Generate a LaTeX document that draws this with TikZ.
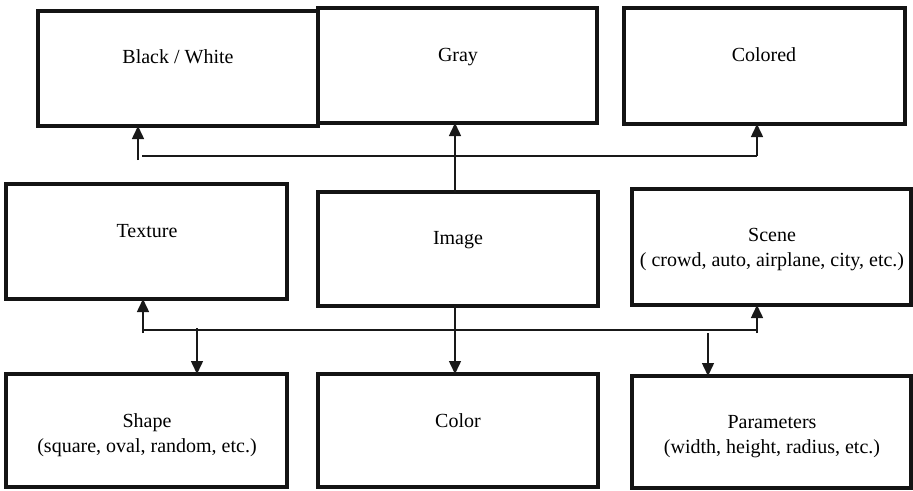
\documentclass[tikz,border=0pt]{standalone}
\usepackage{fontspec}
\setmainfont{Liberation Serif}
\usetikzlibrary{arrows.meta}
\begin{document}
\begin{tikzpicture}[x=1pt,y=-1pt,
  box/.style={draw=black!92, line width=4pt, inner sep=0pt, outer sep=0pt},
  lbl/.style={font=\fontsize{20}{25.5}\selectfont, align=center, anchor=base, inner sep=0pt},
  conn/.style={line width=1.5pt, draw=black!90},
  arr/.style={conn, -{Triangle[length=13pt,width=12pt]}}]
\useasboundingbox (0,0) rectangle (913,490);
% boxes
\node[box, minimum width=280pt, minimum height=115pt] (bw)  at (178,68.5) {};
\node[box, minimum width=279pt, minimum height=115pt] (gray) at (457.5,65.5) {};
\node[box, minimum width=281pt, minimum height=116pt] (col) at (764.5,66) {};
\node[box, minimum width=281pt, minimum height=115pt] (tex) at (146.5,241.5) {};
\node[box, minimum width=280pt, minimum height=114pt] (img) at (458,249) {};
\node[box, minimum width=279pt, minimum height=116pt] (scn) at (771.5,247) {};
\node[box, minimum width=281pt, minimum height=113pt] (shp) at (146.5,430.5) {};
\node[box, minimum width=280pt, minimum height=113pt] (clr) at (458,430.5) {};
\node[box, minimum width=279pt, minimum height=112pt] (par) at (771.5,432) {};
% texts
\node[lbl] (bwt) at (178,63) {Black / White};
\node[lbl] (grt) at (458,61) {Gray};
\node[lbl] (cot) at (764,61) {Colored};
\node[lbl] (txt) at (147,237) {Texture};
\node[lbl] (imt) at (458,244) {Image};
\node[lbl] (sct) at (772,266.5) {Scene\\( crowd, auto, airplane, city, etc.)};
\node[lbl] (sht) at (147,452.5) {Shape\\(square, oval, random, etc.)};
\node[lbl] (clt) at (458,427) {Color};
\node[lbl] (pat) at (772,453.5) {Parameters\\(width, height, radius, etc.)};
% top connectors
\coordinate (g1) at (455,0);
\coordinate (hl) at (142,156);
\coordinate (hr) at (757,156);
\coordinate (bwf) at (138,160);
\draw[arr] (g1 |- img.north) -- (g1 |- gray.south);
\draw[conn] (hl) -- (hr);
\draw[arr] (bwf) -- (bwf |- bw.south);
\draw[arr] (hr) -- (hr |- col.south);
% lower connectors
\coordinate (ll) at (143,330);
\coordinate (lr) at (757,330);
\coordinate (tf) at (143,333);
\coordinate (sf) at (757,333);
\coordinate (shf) at (197,328);
\coordinate (pf) at (708,333);
\draw[conn] (ll) -- (lr);
\draw[arr] (tf) -- (tf |- tex.south);
\draw[arr] (sf) -- (sf |- scn.south);
\draw[arr] (g1 |- img.south) -- (g1 |- clr.north);
\draw[arr] (shf) -- (shf |- shp.north);
\draw[arr] (pf) -- (pf |- par.north);
\end{tikzpicture}
\end{document}
